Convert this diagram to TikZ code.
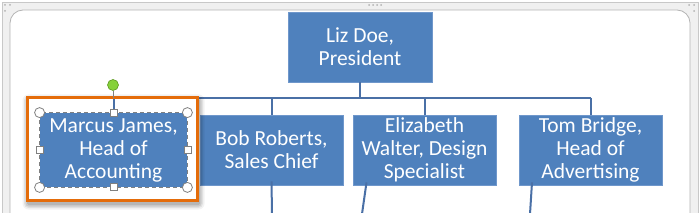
\documentclass[tikz,border=0pt]{standalone}
\usepackage{fontspec}
\setmainfont{Carlito}
\definecolor{boxblue}{HTML}{4F81BD}
\definecolor{boxedge}{HTML}{6F97CB}
\definecolor{conn}{HTML}{4A70A6}
\definecolor{selorange}{HTML}{E46C0A}
\definecolor{handlegray}{HTML}{808080}
\definecolor{framegray}{HTML}{C8C8C8}
\definecolor{bandgray}{HTML}{F0F0F0}
\definecolor{greenh}{HTML}{86D13A}
\definecolor{greenedge}{HTML}{5E9A22}
\begin{document}
\begin{tikzpicture}[x=1pt,y=-1pt,
  orgbox/.style={draw=boxedge,line width=0.8pt,fill=boxblue,text=white,align=center,
    inner sep=0pt,font=\fontsize{21.5}{23}\selectfont},
  connline/.style={draw=conn,line width=2pt},
  cornerhandle/.style={circle,draw=handlegray,fill=white,line width=0.8pt,minimum size=10pt,inner sep=0pt},
  edgehandle/.style={rectangle,draw=handlegray,fill=white,line width=0.8pt,minimum size=7pt,inner sep=0pt},
  gripdot/.style={fill=gray!60}]
\useasboundingbox (0,0) rectangle (700,213);
% frame
\fill[white] (0,0) rectangle (700,213);
\fill[bandgray,draw=framegray,line width=0.6pt] (2,2) -- (698,2) -- (698,220) -- (2,220) -- cycle;
\fill[white,draw=framegray!90!black,line width=0.8pt,rounded corners=13pt] (10,220) -- (10,10) -- (690,10) -- (690,220);
\foreach \p in {(5,5),(10,5),(5,11),(689,5),(694,5),(694,11),(369,5),(373,5),(377,5),(381,5)}
  \fill[gripdot] \p circle (1pt);
% nodes
\node[orgbox,minimum width=144pt,minimum height=70pt] (liz) at (360,47) {Liz Doe,\\President};
\node[orgbox,minimum width=147pt,minimum height=74pt] (marcus) at (113.5,150) {Marcus James,\\Head of\\Accounting};
\node[orgbox,minimum width=143pt,minimum height=70pt] (bob) at (271.5,150) {Bob Roberts,\\Sales Chief};
\node[orgbox,minimum width=143pt,minimum height=70pt] (eliz) at (424.5,150) {Elizabeth\\Walter, Design\\Specialist};
\node[orgbox,minimum width=143pt,minimum height=70pt] (tom) at (590.5,150) {Tom Bridge,\\Head of\\Advertising};
% connectors
\coordinate (bus) at (0,98);
\draw[connline] (liz.south) -- (liz.south |- bus);
\draw[connline] (bus -| marcus.north) -- (bus -| tom.north);
\foreach \n in {marcus,bob,eliz,tom}
  \draw[connline] (bus -| \n.north) -- (\n.north);
% connectors to next level (cut off)
\coordinate (bobdown) at (272,214);
\coordinate (elizdown) at (362,214);
\coordinate (tomdown) at (530,214);
\draw[connline] ([yshift=4pt]bob.south) -- (bobdown);
\draw[connline] ([xshift=-58pt,yshift=3pt]eliz.south) -- (elizdown);
\draw[connline] ([xshift=-58.5pt,yshift=3pt]tom.south) -- (tomdown);
% selection shadow
\foreach \d/\o in {6/0.05,4.5/0.07,3/0.09,1.5/0.1}
  \fill[black,opacity=\o,rounded corners=\d pt] (27-\d+1.5,98-\d+2.5) rectangle (197+\d+1.5,201+\d+2.5);
\fill[white] (27,98) rectangle (197,201);
\fill[boxblue,draw=boxedge,line width=0.8pt] (marcus.south west) rectangle (marcus.north east);
\node[orgbox,draw=none,fill=none] at (marcus.center) {Marcus James,\\Head of\\Accounting};
\draw[connline] (bus -| marcus.north) -- (marcus.north);
% orange frame
\draw[selorange,line width=3pt] (27,98) rectangle (197,201);
% dashed selection rectangle
\draw[white,line width=1pt] (marcus.south west) rectangle (marcus.north east);
\draw[handlegray,line width=1pt,dash pattern=on 4pt off 3pt] (marcus.south west) rectangle (marcus.north east);
% rotation handle
\node[circle,draw=greenedge,fill=greenh,line width=0.6pt,minimum size=11pt,inner sep=0pt] (rot) at (113,85) {};
\draw[handlegray,line width=0.8pt] (rot.south) -- (bus -| rot.south);
% handles
\foreach \a in {north west,north east,south west,south east}
  \node[cornerhandle] at (marcus.\a) {};
\foreach \a in {north,south,west,east}
  \node[edgehandle] at (marcus.\a) {};
\end{tikzpicture}
\end{document}
